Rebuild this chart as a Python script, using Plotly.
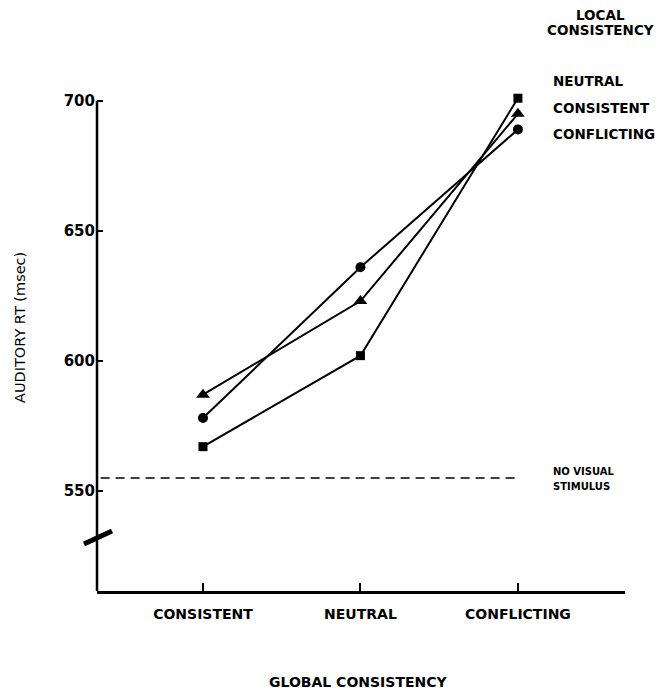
import plotly.graph_objects as go

# Global consistency conditions (x axis)
global_conditions = ["CONSISTENT", "NEUTRAL", "CONFLICTING"]

# Mean auditory reaction time (msec) for each local-consistency condition
rt_local_neutral = [567, 602, 701]
rt_local_consistent = [587, 623, 695]
rt_local_conflicting = [578, 636, 689]

# Baseline with no visual stimulus
rt_no_visual = 555

y_ticks = [550, 600, 650, 700]
y_bottom, y_axis_top, y_view_top = 511.5, 700, 703

W, H = 661, 690
L, R, T, B = 97, 625, 93, 591   # plot area in pixels


def px_x(px):
    return (px - L) / (R - L)


def px_y(py):
    return (B - py) / (B - T)


BOLD = "DejaVu Sans"
x_pos = list(range(len(global_conditions)))

fig = go.Figure()

series = [
    (rt_local_neutral, "square", 9),
    (rt_local_consistent, "triangle-up", 12),
    (rt_local_conflicting, "circle", 10),
]
for values, symbol, size in series:
    fig.add_trace(go.Scatter(
        x=x_pos, y=values, mode="lines+markers",
        line=dict(color="black", width=2),
        marker=dict(symbol=symbol, size=size, color="black"),
        cliponaxis=False, showlegend=False, hoverinfo="skip",
    ))

# Dashed baseline for the no-visual-stimulus condition
fig.add_trace(go.Scatter(
    x=[-0.65, 2.0], y=[rt_no_visual, rt_no_visual], mode="lines",
    line=dict(color="black", width=1.5, dash="9px,6px"),
    showlegend=False, hoverinfo="skip",
))

fig.update_xaxes(
    range=[-0.673, 2.68], tickvals=x_pos, ticktext=global_conditions,
    showline=True, linecolor="black", linewidth=2.5,
    ticks="inside", ticklen=8, tickwidth=1.5, tickcolor="black",
    tickfont=dict(family=BOLD, size=14, color="black", weight="bold"),
    ticklabelstandoff=8,
    showgrid=False, zeroline=False,
)
fig.update_yaxes(
    range=[y_bottom, y_view_top], tickvals=y_ticks,
    showline=False,
    ticks="inside", ticklen=6, tickwidth=2, tickcolor="black",
    tickfont=dict(family=BOLD, size=15, color="black", weight="bold"),
    ticklabelstandoff=1,
    showgrid=False, zeroline=False,
)


def bold_note(text, x, y, size, xanchor="left"):
    return dict(text=text, x=px_x(x), y=px_y(y), xanchor=xanchor, yanchor="middle",
                font=dict(family=BOLD, size=size, color="black", weight="bold"))


annotations = [
    bold_note("LOCAL", 600, 15, 13.5, "center"),
    bold_note("CONSISTENCY", 600, 30, 13.5, "center"),
    bold_note("NEUTRAL", 551, 81, 13.5),
    bold_note("CONSISTENT", 551, 108, 13.5),
    bold_note("CONFLICTING", 551, 134, 13.5),
    bold_note("NO VISUAL", 551, 471, 10),
    bold_note("STIMULUS", 551, 486, 10),
    bold_note("GLOBAL CONSISTENCY", 358, 682, 14, "center"),
    dict(text="AUDITORY RT (msec)", x=px_x(20), y=px_y(328), textangle=-90,
         xanchor="center", yanchor="middle",
         font=dict(family="DejaVu Sans", size=14.5, color="black")),
]
for a in annotations:
    a.update(xref="paper", yref="paper", showarrow=False)

shapes = [
    # y axis line, ending at the top tick
    dict(type="line", xref="paper", yref="y",
         x0=0, y0=y_bottom, x1=0, y1=y_axis_top,
         line=dict(color="black", width=2.5)),
    # axis break mark
    dict(type="line", xref="paper", yref="paper",
         x0=px_x(84), y0=px_y(544), x1=px_x(112), y1=px_y(531),
         line=dict(color="black", width=5)),
]

fig.update_layout(
    width=W, height=H,
    margin=dict(l=L, r=W - R, t=T, b=H - B),
    paper_bgcolor="white", plot_bgcolor="white",
    annotations=annotations, shapes=shapes,
)

fig.write_html("out.html")
